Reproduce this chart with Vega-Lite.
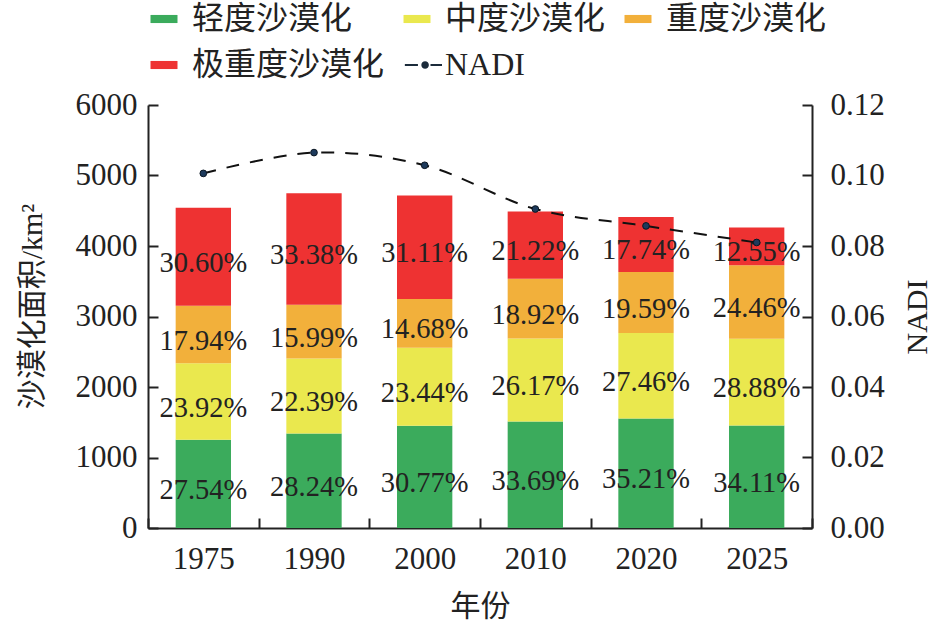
{
  "$schema": "https://vega.github.io/schema/vega-lite/v6.json",
  "width": 664,
  "height": 423,
  "autosize": {"type": "none"},
  "padding": {"left": 148, "top": 105, "right": 126, "bottom": 100},
  "background": "white",
  "config": {
    "view": {"stroke": null},
    "font": "Liberation Serif, Noto Sans CJK SC",
    "axis": {
      "grid": false,
      "domainColor": "#222222",
      "domainWidth": 2,
      "tickColor": "#222222",
      "tickWidth": 2,
      "labelColor": "#222222",
      "labelFont": "Liberation Serif, Noto Sans CJK SC",
      "labelFontSize": 31,
      "titleColor": "#222222",
      "titleFont": "Liberation Serif, Noto Sans CJK SC",
      "titleFontSize": 30,
      "titleFontWeight": "normal"
    }
  },
  "datasets": {
    "area": [
      {"year": "1975", "level": "轻度沙漠化", "value": 1251, "label": "27.54%"},
      {"year": "1975", "level": "中度沙漠化", "value": 1086, "label": "23.92%"},
      {"year": "1975", "level": "重度沙漠化", "value": 815, "label": "17.94%"},
      {"year": "1975", "level": "极重度沙漠化", "value": 1390, "label": "30.60%"},
      {"year": "1990", "level": "轻度沙漠化", "value": 1341, "label": "28.24%"},
      {"year": "1990", "level": "中度沙漠化", "value": 1064, "label": "22.39%"},
      {"year": "1990", "level": "重度沙漠化", "value": 760, "label": "15.99%"},
      {"year": "1990", "level": "极重度沙漠化", "value": 1585, "label": "33.38%"},
      {"year": "2000", "level": "轻度沙漠化", "value": 1451, "label": "30.77%"},
      {"year": "2000", "level": "中度沙漠化", "value": 1105, "label": "23.44%"},
      {"year": "2000", "level": "重度沙漠化", "value": 692, "label": "14.68%"},
      {"year": "2000", "level": "极重度沙漠化", "value": 1467, "label": "31.11%"},
      {"year": "2010", "level": "轻度沙漠化", "value": 1512, "label": "33.69%"},
      {"year": "2010", "level": "中度沙漠化", "value": 1175, "label": "26.17%"},
      {"year": "2010", "level": "重度沙漠化", "value": 849, "label": "18.92%"},
      {"year": "2010", "level": "极重度沙漠化", "value": 952, "label": "21.22%"},
      {"year": "2020", "level": "轻度沙漠化", "value": 1554, "label": "35.21%"},
      {"year": "2020", "level": "中度沙漠化", "value": 1212, "label": "27.46%"},
      {"year": "2020", "level": "重度沙漠化", "value": 864, "label": "19.59%"},
      {"year": "2020", "level": "极重度沙漠化", "value": 783, "label": "17.74%"},
      {"year": "2025", "level": "轻度沙漠化", "value": 1453, "label": "34.11%"},
      {"year": "2025", "level": "中度沙漠化", "value": 1231, "label": "28.88%"},
      {"year": "2025", "level": "重度沙漠化", "value": 1042, "label": "24.46%"},
      {"year": "2025", "level": "极重度沙漠化", "value": 535, "label": "12.55%"}
    ],
    "nadi": [
      {"year": "1975", "NADI": 0.1006},
      {"year": "1990", "NADI": 0.1065},
      {"year": "2000", "NADI": 0.1029},
      {"year": "2010", "NADI": 0.0905},
      {"year": "2020", "NADI": 0.0857},
      {"year": "2025", "NADI": 0.0810}
    ]
  },
  "layer": [
    {
      "data": {"name": "area"},
      "transform": [
        {"calculate": "indexof(['轻度沙漠化','中度沙漠化','重度沙漠化','极重度沙漠化'], datum.level)", "as": "ord"},
        {"stack": "value", "groupby": ["year"], "sort": [{"field": "ord", "order": "ascending"}], "as": ["y0", "y1"]},
        {"calculate": "(datum.y0 + datum.y1) / 2", "as": "mid"}
      ],
      "encoding": {
        "x": {
          "field": "year",
          "type": "nominal",
          "scale": {"paddingInner": 0, "paddingOuter": 0},
          "axis": {
            "title": "年份",
            "labelAngle": 0,
            "tickBand": "extent",
            "tickSize": -10,
            "labelPadding": 26,
            "titlePadding": 17
          }
        }
      },
      "layer": [
        {
          "mark": {"type": "bar", "width": {"band": 0.5}},
          "encoding": {
            "y": {
              "field": "y0",
              "type": "quantitative",
              "scale": {"domain": [0, 6000]},
              "axis": {
                "title": "沙漠化面积/km²",
                "orient": "left",
                "values": [0, 1000, 2000, 3000, 4000, 5000, 6000],
                "format": "d",
                "tickSize": -10,
                "labelPadding": 21,
                "titlePadding": 28,
                "titleY": 201
              }
            },
            "y2": {"field": "y1"},
            "color": {
              "field": "level",
              "type": "nominal",
              "scale": {
                "domain": ["轻度沙漠化", "中度沙漠化", "重度沙漠化", "极重度沙漠化", "NADI"],
                "range": ["#3bab5c", "#eae84e", "#f2b03b", "#ee3232", "#1b2b3b"]
              },
              "legend": {
                "title": null,
                "orient": "none",
                "legendX": 0,
                "legendY": -102,
                "direction": "horizontal",
                "columns": 3,
                "padding": 0,
                "columnPadding": 16,
                "rowPadding": 14,
                "labelFont": "Liberation Serif, Noto Sans CJK SC",
                "labelFontSize": 32,
                "labelColor": "#222222",
                "labelOffset": 12,
                "labelLimit": 400,
                "symbolSize": 729,
                "symbolStrokeWidth": 0,
                "encode": {
                  "symbols": {
                    "update": {
                      "shape": {"signal": "datum.value === 'NADI' ? 'M-0.9,-0.08H0.07V0.08H-0.9Z M1.0,-0.08H1.85V0.08H1.0Z M0.88,0A0.28,0.28 0 1,1 0.32,0A0.28,0.28 0 1,1 0.88,0Z' : 'M-1,-0.3H1V0.3H-1Z'"},
                      "opacity": {"value": 1}
                    }
                  }
                }
              }
            }
          }
        },
        {
          "mark": {"type": "text", "font": "Liberation Serif", "fontSize": 28.5, "color": "#222222", "baseline": "middle", "dy": 6},
          "encoding": {
            "y": {"field": "mid", "type": "quantitative"},
            "text": {"field": "label"}
          }
        }
      ]
    },
    {
      "data": {"name": "nadi"},
      "encoding": {
        "x": {"field": "year", "type": "nominal"},
        "y": {
          "field": "NADI",
          "type": "quantitative",
          "scale": {"domain": [0, 0.12]},
          "axis": {
            "title": "NADI",
            "orient": "right",
            "values": [0, 0.02, 0.04, 0.06, 0.08, 0.1, 0.12],
            "format": ".2f",
            "tickSize": -10,
            "labelPadding": 28,
            "titleAngle": 270,
            "titlePadding": 48
          }
        }
      },
      "layer": [
        {
          "mark": {"type": "line", "interpolate": "catmull-rom", "color": "#111111", "strokeWidth": 2, "strokeDash": [13, 11]}
        },
        {
          "mark": {"type": "point", "filled": true, "color": "#1d3a5c", "size": 45, "opacity": 1, "stroke": "#0b1622", "strokeWidth": 1}
        }
      ]
    }
  ],
  "resolve": {"scale": {"y": "independent"}}
}
